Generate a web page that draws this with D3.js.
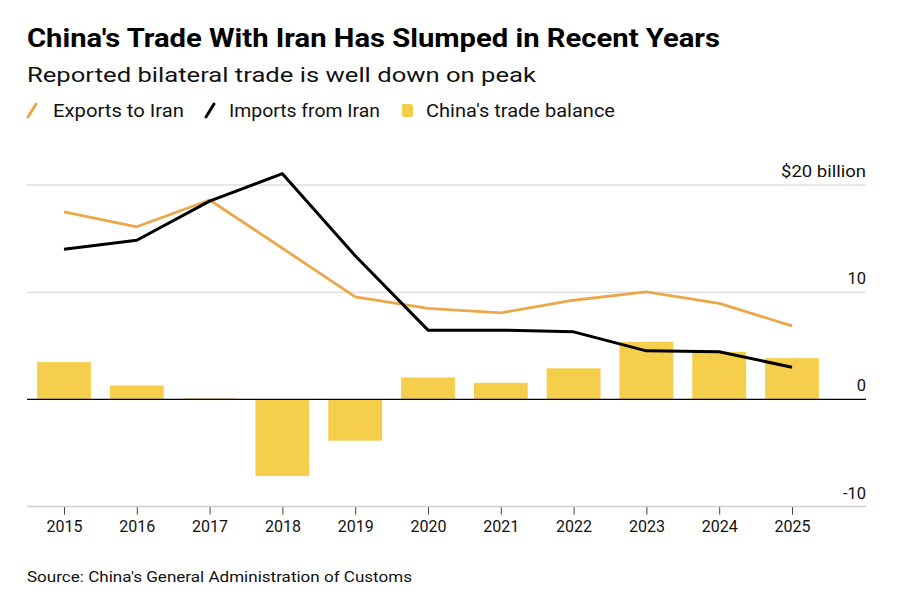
<!DOCTYPE html>
<html><head><meta charset="utf-8">
<script src="https://cdn.jsdelivr.net/npm/d3@7"></script>
<style>
body{margin:0;background:#fff;}
svg{display:block;font-family:Roboto, "Noto Sans", sans-serif;}
</style></head>
<body><svg id="c" width="902" height="614"></svg>
<script>
const years = ["2015","2016","2017","2018","2019","2020","2021","2022","2023","2024","2025"];
const exportsToIran = [17.5,16.1,18.6,14.1,9.56,8.5,8.07,9.25,10.03,8.95,6.86];
const importsFromIran = [14.0,14.85,18.5,21.06,13.4,6.46,6.46,6.3,4.53,4.44,3.0];
const tradeBalance = [3.48,1.3,0.1,-7.15,-3.85,2.05,1.55,2.9,5.37,4.44,3.85];
const yTicks = [20,10,0,-10];
const yTickLabels = ["$20 billion","10","0","-10"];

const svg = d3.select("#c");
const left = 27, right = 866;
const x = d3.scaleBand().domain(years).range([27.6, 828.4]).paddingInner(0.26).paddingOuter(0.13);
const y = d3.scaleLinear().domain([-10, 20]).range([506.6, 185]);
const cx = d => x(d) + x.bandwidth()/2;

function txt(g, xx, yy, size, s, len, opts={}) {
  const t = g.append("text").attr("x",xx).attr("y",yy).attr("font-size",size).attr("fill",opts.fill||"#111").text(s);
  if (opts.weight) t.attr("font-weight",opts.weight);
  if (opts.anchor) t.attr("text-anchor",opts.anchor);
  if (len) t.attr("textLength",len).attr("lengthAdjust","spacingAndGlyphs");
  return t;
}

txt(svg,27,47,25,"China's Trade With Iran Has Slumped in Recent Years",693,{weight:700,fill:"#000"});
txt(svg,27,82,21,"Reported bilateral trade is well down on peak",509);

// legend
const lg = svg.append("g");
lg.append("line").attr("x1",28).attr("y1",117).attr("x2",36).attr("y2",104).attr("stroke","#eaa84a").attr("stroke-width",3).attr("stroke-linecap","round");
txt(lg,53,117,18.5,"Exports to Iran",131);
lg.append("line").attr("x1",206).attr("y1",117).attr("x2",214).attr("y2",104).attr("stroke","#000").attr("stroke-width",3).attr("stroke-linecap","round");
txt(lg,229,117,18.5,"Imports from Iran",151);
lg.append("rect").attr("x",402).attr("y",104).attr("width",11).attr("height",13).attr("rx",2).attr("fill","#f5cf4b");
txt(lg,426,117,18.5,"China's trade balance",189);

// gridlines
svg.append("g").selectAll("line").data(yTicks.filter(t=>t!==0 && t!==-10)).join("line")
  .attr("x1",left).attr("x2",right).attr("y1",d=>y(d)).attr("y2",d=>y(d))
  .attr("stroke","#cfcfcf").attr("stroke-width",1);

// y labels
const labLens = [85,null,null,null];
svg.append("g").selectAll("text").data(yTicks).join("text")
  .attr("x",right).attr("y",d=>y(d)-8).attr("text-anchor","end").attr("font-size",16.5).attr("fill","#111")
  .each(function(d,i){ if(labLens[i]) d3.select(this).attr("textLength",labLens[i]).attr("lengthAdjust","spacingAndGlyphs"); })
  .text((d,i)=>yTickLabels[i]);

// bars
svg.append("g").selectAll("rect").data(tradeBalance).join("rect")
  .attr("x",(d,i)=>x(years[i])).attr("width",x.bandwidth())
  .attr("y",d=>y(Math.max(0,d))).attr("height",d=>Math.abs(y(d)-y(0)))
  .attr("fill","#f5cf4b");

// zero line
svg.append("line").attr("x1",left).attr("x2",right).attr("y1",y(0)).attr("y2",y(0)).attr("stroke","#000").attr("stroke-width",1.2);

// bottom axis
const xAxis = d3.axisBottom(d3.scalePoint().domain(years).range([cx(years[0]), cx(years[years.length-1])])).tickSize(8).tickPadding(6);
const ax = svg.append("g").attr("transform",`translate(0,${y(-10)})`).call(xAxis);
ax.select(".domain").remove();
ax.selectAll(".tick line").attr("stroke","#444");
ax.selectAll(".tick text").attr("font-size",16).attr("fill","#111").attr("font-family","Roboto, sans-serif");
svg.append("line").attr("x1",left).attr("x2",right).attr("y1",y(-10)).attr("y2",y(-10)).attr("stroke","#cfcfcf").attr("stroke-width",1.5);

// lines
const line = d3.line().x((d,i)=>cx(years[i])).y(d=>y(d));
svg.append("path").datum(exportsToIran).attr("d",line).attr("fill","none").attr("stroke","#eaa84a").attr("stroke-width",2.8).attr("stroke-linejoin","round");
svg.append("path").datum(importsFromIran).attr("d",line).attr("fill","none").attr("stroke","#000").attr("stroke-width",3).attr("stroke-linejoin","round");

// source
txt(svg,27,582,15,"Source: China's General Administration of Customs",385);
</script></body></html>
